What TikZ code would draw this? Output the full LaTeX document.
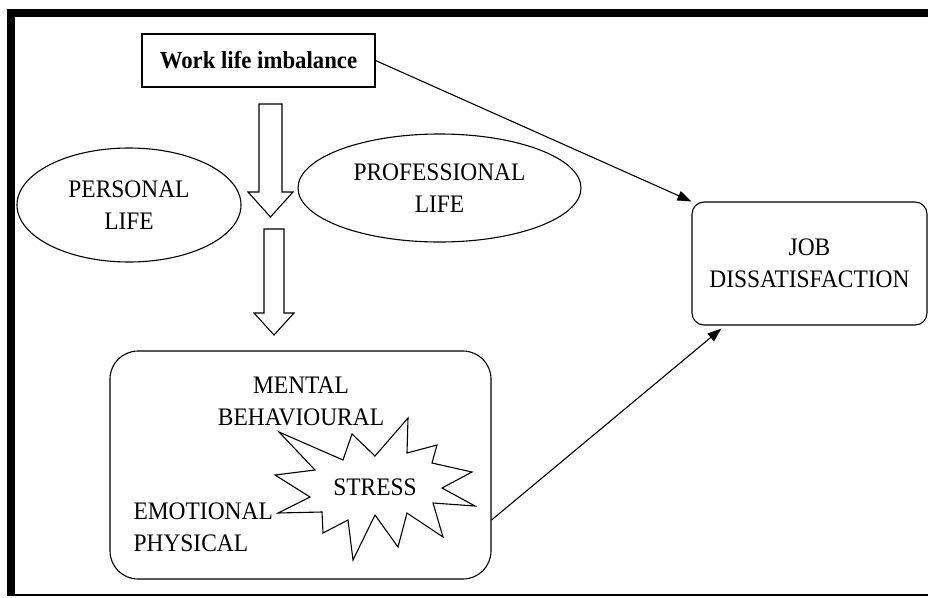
\documentclass[tikz,border=0pt]{standalone}
\usepackage{fontspec}
\setmainfont[FakeStretch=0.93]{Liberation Serif}
\usetikzlibrary{shapes.geometric,arrows.meta}
\begin{document}
\begin{tikzpicture}[x=1pt,y=-1pt,line width=1.1pt]
  \tikzstyle{every node}=[font=\fontsize{25.2}{32}\selectfont]
  \tikzstyle{oval}=[ellipse,draw,align=center,inner sep=0pt]
  \tikzstyle{roundbox}=[rectangle,draw,align=center]
  \tikzstyle{link}=[-{Triangle[length=14pt,width=10pt]}]
  \useasboundingbox (0,0) rectangle (928,597);
  % frame
  \fill (7,9) rectangle (928,17);
  \fill (7,9) rectangle (15,595);
  \draw[line width=1.5pt] (7,595) -- (928,595);
  % nodes
  \node[draw,rectangle,minimum width=233pt,minimum height=53pt,
        font=\fontsize{24.5}{31}\selectfont\bfseries] (wli) at (258.5,60.5) {Work life imbalance};
  \node[oval,minimum width=224pt,minimum height=114pt] (personal) at (129,205) {PERSONAL\\LIFE};
  \node[oval,minimum width=283pt,minimum height=108pt] (professional) at (439.5,188) {PROFESSIONAL\\LIFE};
  \node[roundbox,rounded corners=12pt,minimum width=235pt,minimum height=123pt] (job) at (809.5,263.5) {JOB\\DISSATISFACTION};
  \node[roundbox,rounded corners=28pt,minimum width=381pt,minimum height=228pt] (effects) at (300.5,465) {};
  % block arrows
  \draw (259,104) -- (282,104) -- (282,192) -- (293,192) -- (270.5,217)
        -- (248,192) -- (259,192) -- cycle;
  \draw (264,229) -- (284,229) -- (284,313) -- (294,313) -- (274,335)
        -- (254,313) -- (264,313) -- cycle;
  % stress burst
  \draw[fill=white] (279,432) -- (343,460) -- (352,434) -- (375,456) -- (408,418)
        -- (407,453) -- (437,445) -- (432,463) -- (472,472) -- (442,488)
        -- (475,506) -- (433,503) -- (443,537) -- (407,513) -- (398,547)
        -- (375,515) -- (353,560) -- (348,520) -- (323,533) -- (322,512)
        -- (278,513) -- (310,497) -- (275,475) -- (315,470) -- cycle;
  \node (stress) at (375,487) {STRESS};
  \node[align=center] (mental) at (301,401) {MENTAL\\BEHAVIOURAL};
  \node[align=left,anchor=west,inner sep=0pt] (emotional) at (133,527) {EMOTIONAL\\PHYSICAL};
  % connectors
  \draw[link] (wli.east) -- (job.north west);
  \draw[link] ([yshift=-55pt]effects.east) -- ([xshift=30pt,yshift=-3pt]job.south west);
\end{tikzpicture}
\end{document}
